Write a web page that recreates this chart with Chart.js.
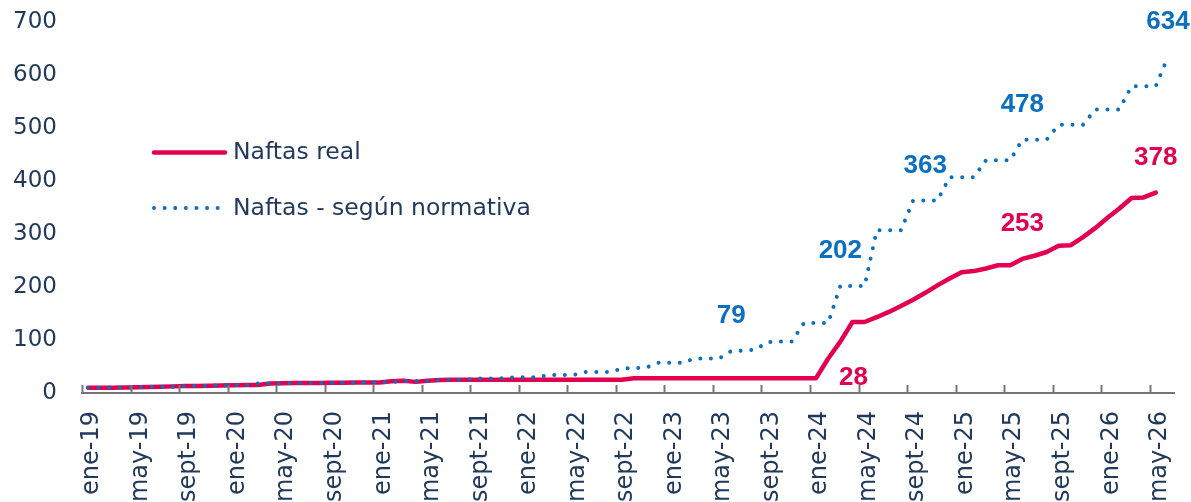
<!DOCTYPE html>
<html>
<head>
<meta charset="utf-8">
<script src="https://cdn.jsdelivr.net/npm/chart.js@4.4.1/dist/chart.umd.min.js"></script>
<style>
  html, body { margin: 0; padding: 0; background: #fff; }
  #wrap { width: 1191px; height: 502px; }
</style>
</head>
<body>
<div id="wrap"><canvas id="chart" width="1191" height="502"></canvas></div>
<script>
// months ene-19 .. jun-26
const monthNames = ["ene", "feb", "mar", "abr", "may", "jun", "jul", "ago", "sept", "oct", "nov", "dic"];
const years = ["19", "20", "21", "22", "23", "24", "25", "26"];
const categories = [];
years.forEach(y => monthNames.forEach(m => categories.push(m + "-" + y)));
categories.length = 90;

const yTicks = [0, 100, 200, 300, 400, 500, 600, 700];

const naftasReal = [
  10, 10, 10, 10.5, 11, 11.5, 12, 12.5, 13, 13, 13.5, 14, 14.5, 15, 15,
  18, 18.5, 19, 19, 19, 19.5, 19.5, 20, 20, 20,
  22, 23, 21, 23, 24.5,
  25, 25, 25, 25, 25, 25, 25, 25, 25, 25, 25, 25, 25, 25, 25,
  28, 28, 28, 28, 28, 28, 28, 28, 28, 28, 28, 28, 28, 28, 28, 28,
  65, 97, 134, 134, 143, 153, 164, 176, 189, 203,
  216, 228, 230, 235, 241, 241, 253, 259, 266, 278,
  279, 294, 311, 330, 348, 368, 369, 378,
  null
];

const naftasNormativa = [
  10, 10,
  10.5, 10.5, 10.5,
  12, 12, 12,
  13.5, 13.5, 13.5,
  15, 15, 15,
  18, 18, 18,
  18.5, 18.5, 18.5,
  19.5, 19.5, 19.5,
  20.5, 20.5, 20.5,
  22.5, 22.5, 22.5,
  25, 25, 25,
  27.5, 27.5, 27.5,
  29.5, 29.5, 29.5,
  34, 34, 34,
  39.5, 39.5, 39.5,
  46, 47, 48,
  57, 57, 57,
  65, 65, 65,
  79, 80, 82,
  96, 97, 97,
  132, 132, 132,
  202, 202, 202,
  307, 307, 307,
  363, 363, 363,
  407, 407, 407,
  439, 439, 439,
  478, 478, 478,
  506, 506, 506,
  535, 535, 535,
  579, 579, 579,
  634
];

// indices of the points that carry a value label
const realLabelIdx = [77, 88];
const realSideLabelIdx = [60];
const normativaLabelIdx = [53, 62, 69, 77, 89];

const RED = "#E2004F";
const BLUE = "#0A70BF";
const NAVY = "#213A5C";
const AXIS = "#767676";
const FONT = "'DejaVu Sans', sans-serif";

const extras = {
  id: "extras",
  afterDatasetsDraw(chart) {
    const { ctx, chartArea, scales: { x, y } } = chart;
    ctx.save();

    // inside tick marks every 4 months
    const half = (x.getPixelForValue(1) - x.getPixelForValue(0)) / 2;
    ctx.strokeStyle = AXIS;
    ctx.lineWidth = 2;
    for (let i = 0; i < categories.length; i += 4) {
      const px = Math.round(x.getPixelForValue(i) - half) + 0.5;
      ctx.beginPath();
      ctx.moveTo(px, chartArea.bottom - 8);
      ctx.lineTo(px, chartArea.bottom);
      ctx.stroke();
    }

    // value labels
    ctx.font = "bold 26px 'Liberation Sans', Arial, sans-serif";
    ctx.textBaseline = "middle";
    ctx.textAlign = "center";
    ctx.fillStyle = BLUE;
    normativaLabelIdx.forEach(i => {
      const v = naftasNormativa[i];
      ctx.fillText(String(v), x.getPixelForValue(i), y.getPixelForValue(v) - 35);
    });
    ctx.fillStyle = RED;
    realLabelIdx.forEach(i => {
      const v = naftasReal[i];
      ctx.fillText(String(v), x.getPixelForValue(i), y.getPixelForValue(v) - 35);
    });
    ctx.textAlign = "left";
    realSideLabelIdx.forEach(i => {
      const v = naftasReal[i];
      ctx.fillText(String(v), x.getPixelForValue(i) + 23, y.getPixelForValue(v));
    });

    // legend
    const lx = chartArea.left + 72;
    ctx.font = "23.5px " + FONT;
    ctx.fillStyle = NAVY;
    ctx.textAlign = "left";
    ctx.lineCap = "round";

    ctx.strokeStyle = RED;
    ctx.lineWidth = 4.5;
    ctx.beginPath();
    ctx.moveTo(lx, 152.5);
    ctx.lineTo(lx + 71, 152.5);
    ctx.stroke();
    ctx.fillText("Naftas real", lx + 79, 153);

    ctx.strokeStyle = BLUE;
    ctx.lineWidth = 4;
    ctx.setLineDash([0.01, 10.6]);
    ctx.beginPath();
    ctx.moveTo(lx, 208);
    ctx.lineTo(lx + 66, 208);
    ctx.stroke();
    ctx.setLineDash([]);
    ctx.fillText("Naftas - según normativa", lx + 79, 209);

    ctx.restore();
  }
};

new Chart(document.getElementById("chart"), {
  type: "line",
  data: {
    labels: categories,
    datasets: [
      {
        label: "Naftas real",
        data: naftasReal,
        borderColor: RED,
        borderWidth: 4.5,
        borderJoinStyle: "round",
        borderCapStyle: "round",
        pointRadius: 0,
        tension: 0,
        order: 1
      },
      {
        label: "Naftas - según normativa",
        data: naftasNormativa,
        borderColor: BLUE,
        borderWidth: 4,
        borderDash: [0.01, 10.6],
        borderCapStyle: "round",
        pointRadius: 0,
        tension: 0,
        order: 0
      }
    ]
  },
  options: {
    responsive: false,
    animation: false,
    layout: { padding: { top: 22, right: 17, bottom: 0, left: 0 } },
    plugins: { legend: { display: false }, tooltip: { enabled: false } },
    scales: {
      x: {
        offset: true,
        grid: { display: false, drawTicks: false, offset: true },
        border: { display: true, color: AXIS, width: 2 },
        ticks: {
          autoSkip: false,
          maxRotation: 90,
          minRotation: 90,
          padding: 18,
          labelOffset: 4,
          color: NAVY,
          font: { family: FONT, size: 24 },
          callback: (v, i) => (i % 4 === 0 ? categories[i] : null)
        },
        afterFit: s => { s.height = 109; s.paddingLeft = 0; s.paddingRight = 0; }
      },
      y: {
        min: 0,
        max: 700,
        grid: { display: false, drawTicks: false },
        border: { display: false },
        afterBuildTicks: s => { s.ticks = yTicks.map(v => ({ value: v })); },
        ticks: {
          padding: 25,
          color: NAVY,
          font: { family: FONT, size: 23 }
        },
        afterFit: s => { s.width = 82; s.paddingTop = 0; s.paddingBottom = 0; }
      }
    }
  },
  plugins: [extras]
});
</script>
</body>
</html>
